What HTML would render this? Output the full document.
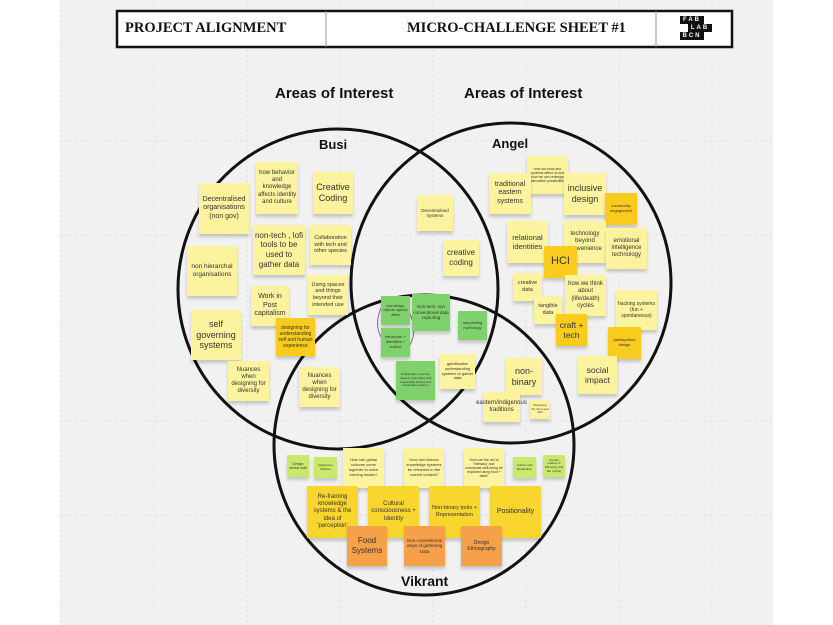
<!DOCTYPE html>
<html><head><meta charset="utf-8"><style>
body{margin:0;width:833px;height:625px;background:#fff;position:relative;overflow:hidden;font-family:"Liberation Sans",sans-serif}
#bg{position:absolute;left:60px;top:0;width:713px;height:625px;background:#f1f1f1}
.s{position:absolute;display:flex;align-items:center;justify-content:center;text-align:center;color:#333;background:#fcf39e;box-shadow:0 3px 3px rgba(0,0,0,.18);line-height:1.2;box-sizing:border-box;padding:1px}
.y{background:#f8cb1c}.g{background:#7fd16b}.l{background:#c9e86c}.o{background:#f7a04a}.yo{background:#f9d62d}
.t{position:absolute;font-weight:bold;color:#111}
.lg{position:absolute;background:#111;color:#fff;font-size:6px;font-weight:bold;letter-spacing:2px;width:24px;height:8px;line-height:8px;text-align:center}
</style></head><body>
<div id="bg"></div>
<svg style="position:absolute;left:0;top:0" width="833" height="625">
<g stroke="#ddd" stroke-dasharray="2,3" stroke-width="1">
<line x1="61" y1="0" x2="61" y2="625"/><line x1="154" y1="0" x2="154" y2="625"/><line x1="247" y1="0" x2="247" y2="625"/><line x1="340" y1="0" x2="340" y2="625"/><line x1="433" y1="0" x2="433" y2="625"/><line x1="526" y1="0" x2="526" y2="625"/><line x1="619" y1="0" x2="619" y2="625"/><line x1="712" y1="0" x2="712" y2="625"/>
<line x1="60" y1="48" x2="773" y2="48"/><line x1="60" y1="141" x2="773" y2="141"/><line x1="60" y1="235" x2="773" y2="235"/><line x1="60" y1="328" x2="773" y2="328"/><line x1="60" y1="421" x2="773" y2="421"/><line x1="60" y1="515" x2="773" y2="515"/><line x1="60" y1="608" x2="773" y2="608"/>
</g>
<rect x="117" y="11" width="615" height="36" fill="#fff" stroke="#111" stroke-width="2.5"/>
<line x1="326" y1="11" x2="326" y2="47" stroke="#999"/><line x1="656" y1="11" x2="656" y2="47" stroke="#999"/>
<g fill="none" stroke="#111" stroke-width="3">
<circle cx="338" cy="289" r="160"/><circle cx="511" cy="283" r="160"/><circle cx="424" cy="445" r="150"/>
</g>
<path d="M383 304 Q372 325 383 340" fill="none" stroke="#777" stroke-width="1"/><path d="M409 312 Q418 330 410 345" fill="none" stroke="#777" stroke-width="1"/>
</svg>
<div class="lg" style="left:680px;top:16px">FAB</div>
<div class="lg" style="left:688px;top:24px">LAB</div>
<div class="lg" style="left:680px;top:32px">BCN</div>
<div class="t" style="left:125px;top:20px;font-family:'Liberation Serif',serif;font-size:14.5px">PROJECT ALIGNMENT</div>
<div class="t" style="left:407px;top:20px;font-family:'Liberation Serif',serif;font-size:14.5px">MICRO-CHALLENGE SHEET #1</div>
<div class="t" style="left:275px;top:85px;font-size:15px">Areas of Interest</div>
<div class="t" style="left:464px;top:85px;font-size:15px">Areas of Interest</div>
<div class="t" style="left:319px;top:137px;font-size:13px">Busi</div>
<div class="t" style="left:492px;top:136px;font-size:13px">Angel</div>
<div class="t" style="left:401px;top:573px;font-size:14px">Vikrant</div>

<div class="s" style="left:199px;top:183px;width:50px;height:51px;font-size:7px">Decentralised organisations (non gov)</div>
<div class="s" style="left:256px;top:162px;width:42px;height:52px;font-size:6px">how behavior and knowledge affects identity and culture</div>
<div class="s" style="left:313px;top:172px;width:40px;height:42px;font-size:9px">Creative Coding</div>
<div class="s" style="left:187px;top:246px;width:50px;height:50px;font-size:6.5px">non hierarchal organisations</div>
<div class="s" style="left:253px;top:225px;width:52px;height:50px;font-size:8px">non-tech , lofi tools to be used to gather data</div>
<div class="s" style="left:310px;top:225px;width:41px;height:40px;font-size:5.5px">Collaboration with tech and other species</div>
<div class="s" style="left:308px;top:275px;width:40px;height:40px;font-size:5.5px">Using spaces and things beyond their intended use</div>
<div class="s" style="left:251px;top:286px;width:38px;height:40px;font-size:7px">Work in Post capitalism</div>
<div class="s" style="left:191px;top:310px;width:50px;height:50px;font-size:9px">self governing systems</div>
<div class="s y" style="left:276px;top:318px;width:39px;height:38px;font-size:5px">designing for understanding self and human experience</div>
<div class="s" style="left:228px;top:361px;width:41px;height:40px;font-size:6px">Nuances when designing for diversity</div>
<div class="s" style="left:299px;top:367px;width:41px;height:40px;font-size:6px">Nuances when designing for diversity</div>

<div class="s" style="left:527px;top:156px;width:41px;height:38px;font-size:3.5px">how our tools and systems affect us and how we can redesign alternative possibilities</div>
<div class="s" style="left:489px;top:173px;width:42px;height:41px;font-size:7px">traditional eastern systems</div>
<div class="s" style="left:564px;top:173px;width:42px;height:42px;font-size:9px">inclusive design</div>
<div class="s y" style="left:605px;top:193px;width:32px;height:32px;font-size:4px">community engagement</div>
<div class="s" style="left:507px;top:221px;width:41px;height:42px;font-size:7.5px">relational identities</div>
<div class="s" style="left:564px;top:221px;width:42px;height:42px;font-size:6px">technology beyond convenience</div>
<div class="s" style="left:606px;top:228px;width:41px;height:41px;font-size:6px">emotional intelligence technology</div>
<div class="s y" style="left:544px;top:246px;width:33px;height:32px;font-size:11px">HCI</div>
<div class="s" style="left:513px;top:273px;width:29px;height:28px;font-size:5.5px">creative data</div>
<div class="s" style="left:565px;top:275px;width:41px;height:41px;font-size:6px">how we think about (life/death) cycles</div>
<div class="s" style="left:534px;top:296px;width:28px;height:28px;font-size:5.5px">tangible data</div>
<div class="s y" style="left:556px;top:314px;width:31px;height:32px;font-size:8.5px">craft + tech</div>
<div class="s" style="left:616px;top:290px;width:41px;height:40px;font-size:5px">hacking systems (fun + spontaneous)</div>
<div class="s y" style="left:608px;top:327px;width:33px;height:32px;font-size:4px">participatory design</div>
<div class="s" style="left:578px;top:356px;width:39px;height:38px;font-size:8.5px">social impact</div>
<div class="s" style="left:506px;top:358px;width:36px;height:37px;font-size:9px">non-binary</div>
<div class="s" style="left:483px;top:392px;width:37px;height:30px;font-size:6px">eastern/indigenous traditions</div>
<div class="s" style="left:530px;top:400px;width:20px;height:19px;font-size:3px">Designing for, from and with</div>

<div class="s" style="left:417px;top:195px;width:36px;height:36px;font-size:4.5px">Decentralised systems</div>
<div class="s" style="left:443px;top:240px;width:36px;height:36px;font-size:8px">creative coding</div>
<div class="s g" style="left:381px;top:296px;width:29px;height:29px;font-size:3.5px">how design, objects, spaces affect</div>
<div class="s g" style="left:412px;top:294px;width:38px;height:37px;font-size:4.5px">Non tech, non conventional data capturing</div>
<div class="s g" style="left:458px;top:311px;width:29px;height:29px;font-size:4px">storytelling mythology</div>
<div class="s g" style="left:381px;top:328px;width:29px;height:29px;font-size:4px">behaviour + identities + culture</div>
<div class="s g" style="left:396px;top:361px;width:39px;height:39px;font-size:3px">Positionality / how we relate to and reflect and respectfully finding new knowledge systems</div>
<div class="s" style="left:440px;top:354px;width:35px;height:35px;font-size:4px">gamification understanding systems to gather data</div>

<div class="s l" style="left:287px;top:455px;width:22px;height:22px;font-size:3.5px">Design versus craft</div>
<div class="s l" style="left:314px;top:457px;width:23px;height:21px;font-size:3px">Indigenous Wisdom</div>
<div class="s" style="left:343px;top:448px;width:41px;height:40px;font-size:4px">How can global cultures come together to solve burning issues?</div>
<div class="s" style="left:404px;top:448px;width:40px;height:40px;font-size:4px">How can historic knowledge systems be reframed in the current context?</div>
<div class="s" style="left:464px;top:448px;width:40px;height:40px;font-size:3.5px">How can the act of 'intimacy' and communal well-being be explored using food + data?</div>
<div class="s l" style="left:513px;top:457px;width:23px;height:21px;font-size:3px">Culture and Metabolism</div>
<div class="s l" style="left:543px;top:455px;width:22px;height:22px;font-size:3px">Human relation to Planetary and Bio cycling</div>
<div class="s yo" style="left:307px;top:486px;width:51px;height:52px;font-size:6px">Re-framing knowledge systems &amp; the idea of 'perception'</div>
<div class="s yo" style="left:368px;top:486px;width:51px;height:52px;font-size:6px">Cultural consciousness + Identity</div>
<div class="s yo" style="left:429px;top:486px;width:51px;height:52px;font-size:5.5px">Non-binary tools + Representation</div>
<div class="s yo" style="left:490px;top:486px;width:51px;height:52px;font-size:7px">Positionality</div>
<div class="s o" style="left:347px;top:526px;width:40px;height:40px;font-size:8px">Food Systems</div>
<div class="s o" style="left:404px;top:526px;width:41px;height:40px;font-size:4.5px">Non-conventional ways of gathering Data</div>
<div class="s o" style="left:461px;top:526px;width:41px;height:40px;font-size:5px">Design Ethnography</div>
</body></html>
